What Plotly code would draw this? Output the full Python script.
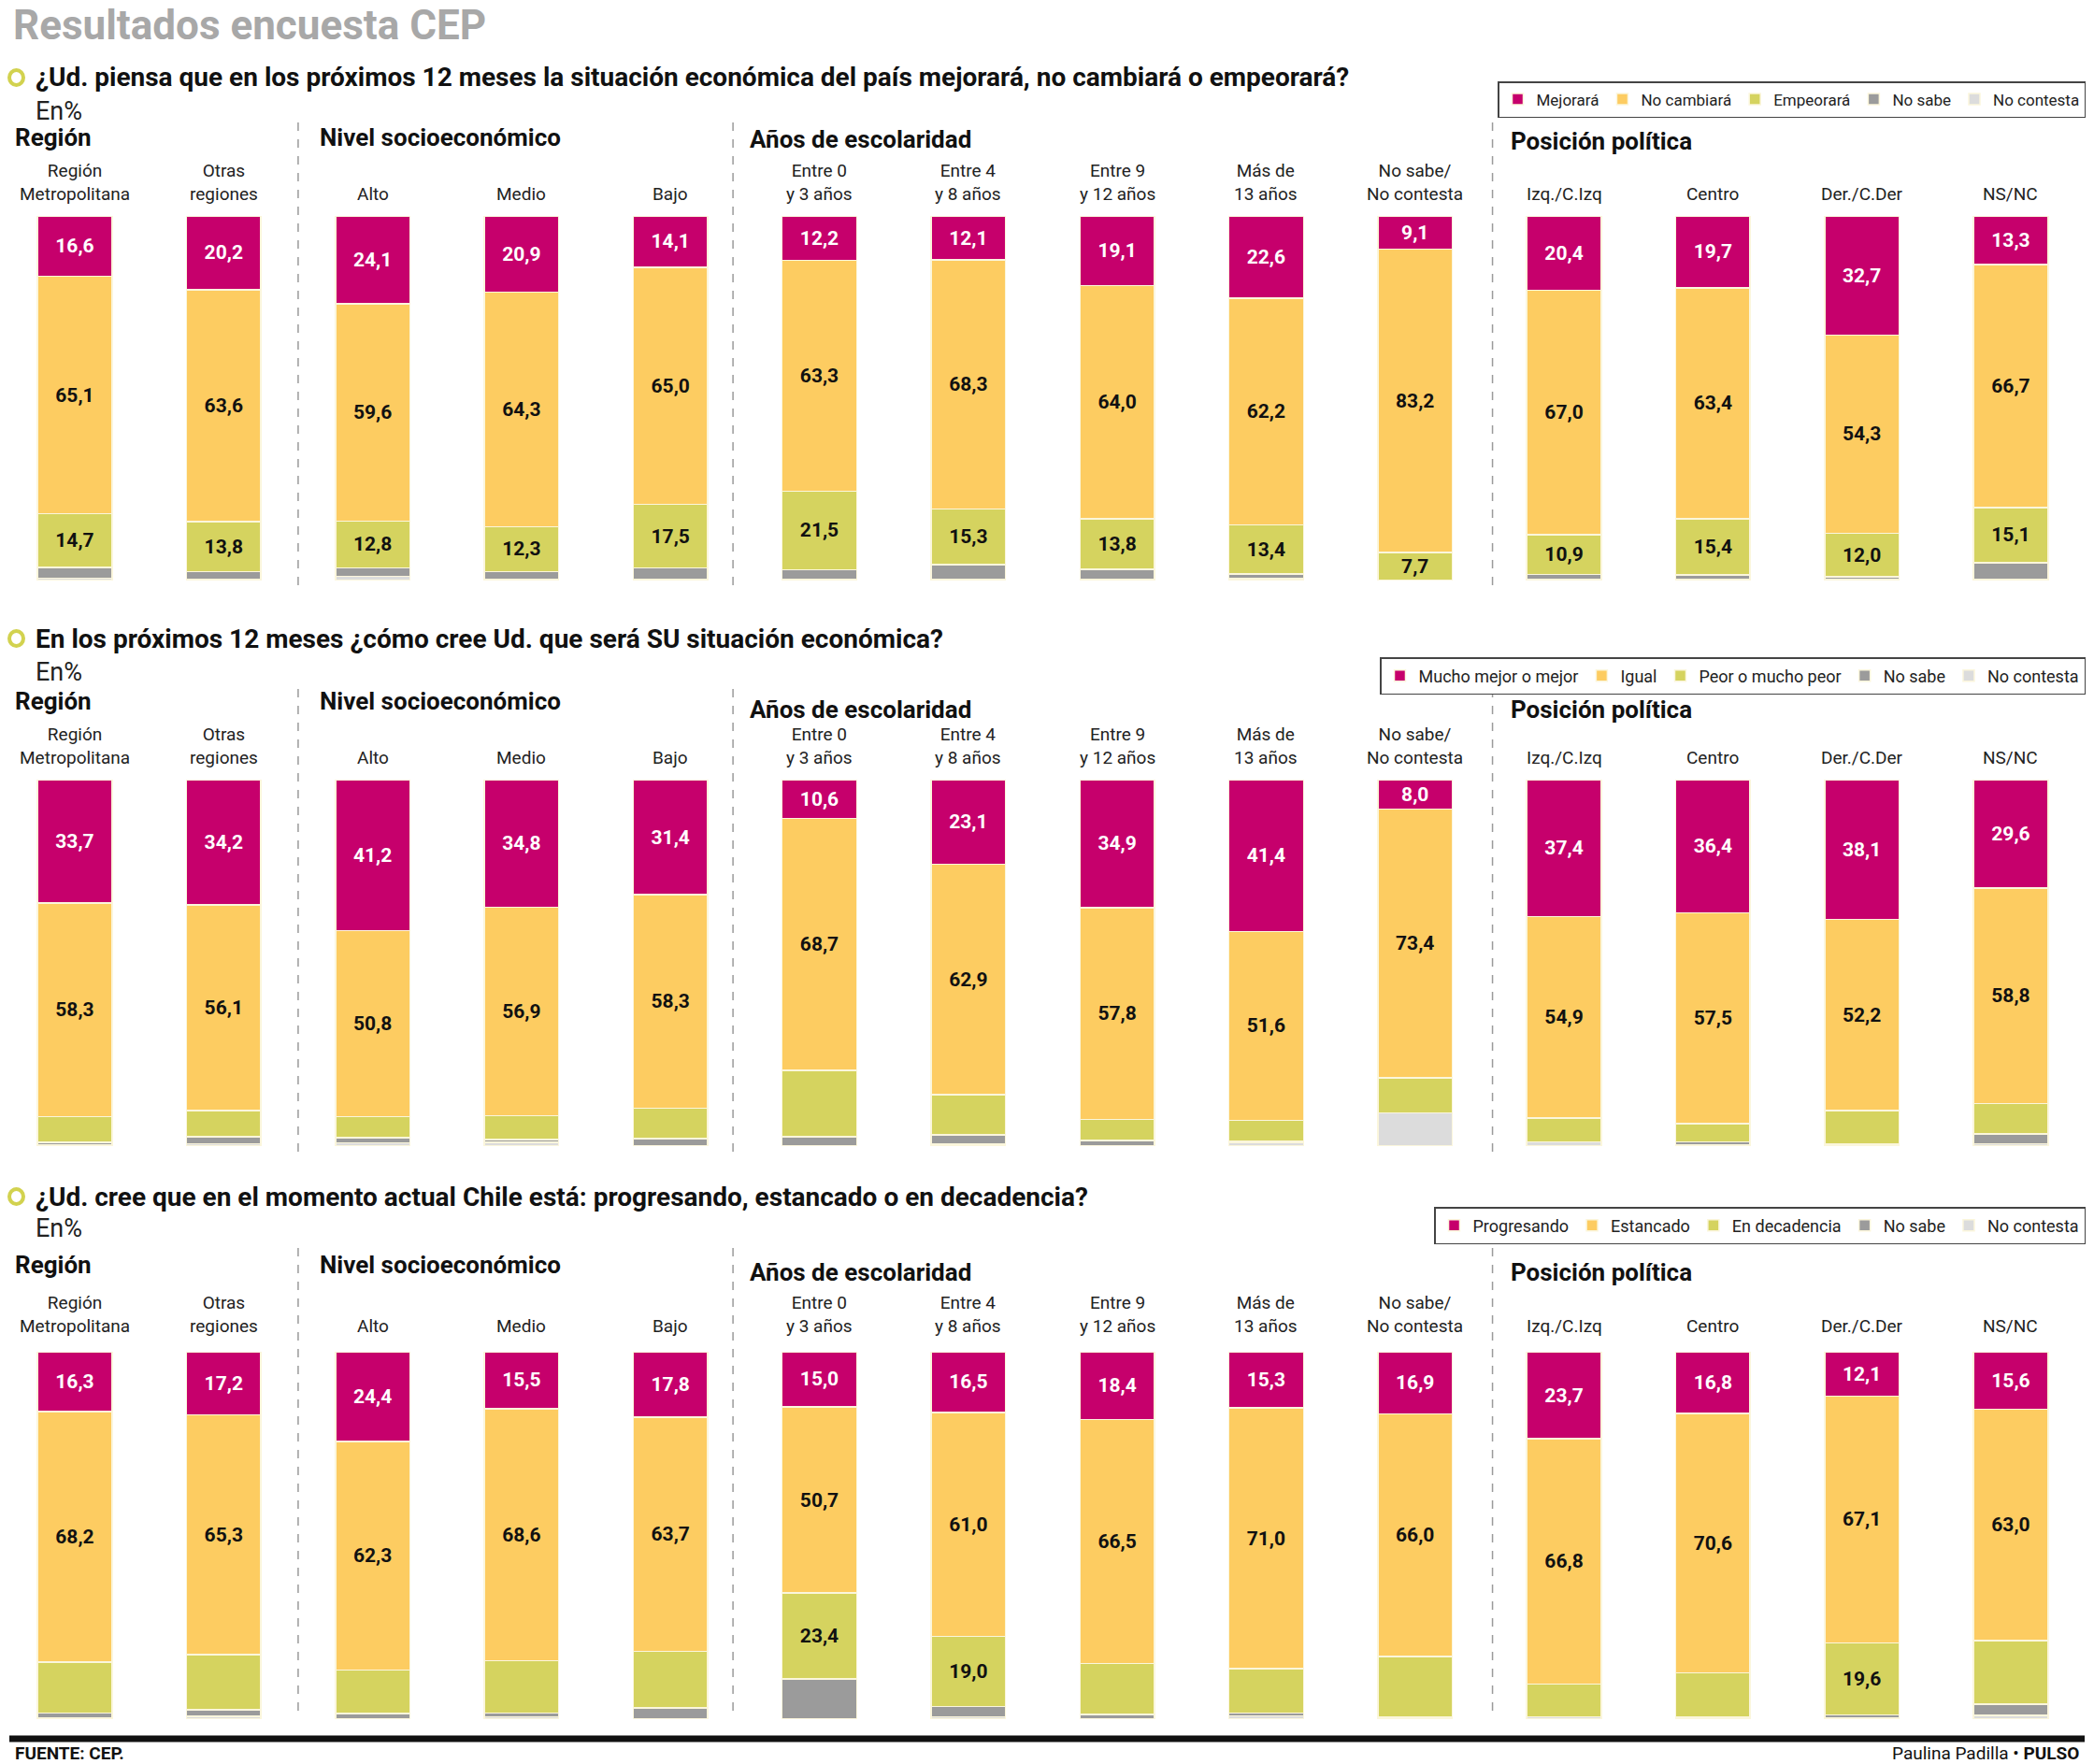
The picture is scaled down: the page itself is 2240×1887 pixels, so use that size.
import plotly.graph_objects as go

W, H = 2240, 1887

# ---------------- data ----------------
categories = ["Región<br>Metropolitana", "Otras<br>regiones", "Alto", "Medio", "Bajo",
              "Entre 0<br>y 3 años", "Entre 4<br>y 8 años", "Entre 9<br>y 12 años",
              "Más de<br>13 años", "No sabe/<br>No contesta",
              "Izq./C.Izq", "Centro", "Der./C.Der", "NS/NC"]
groups = ["Región", "Nivel socioeconómico", "Años de escolaridad", "Posición política"]

q1_title = "¿Ud. piensa que en los próximos 12 meses la situación económica del país mejorará, no cambiará o empeorará?"
q1_series = ["Mejorará", "No cambiará", "Empeorará", "No sabe", "No contesta"]
q1_mejorara = [16.6, 20.2, 24.1, 20.9, 14.1, 12.2, 12.1, 19.1, 22.6, 9.1, 20.4, 19.7, 32.7, 13.3]
q1_no_cambiara = [65.1, 63.6, 59.6, 64.3, 65.0, 63.3, 68.3, 64.0, 62.2, 83.2, 67.0, 63.4, 54.3, 66.7]
q1_empeorara = [14.7, 13.8, 12.8, 12.3, 17.5, 21.5, 15.3, 13.8, 13.4, 7.7, 10.9, 15.4, 12.0, 15.1]
q1_no_sabe = [2.9, 2.2, 2.4, 2.1, 3.0, 2.7, 4.0, 2.8, 1.3, 0.0, 1.5, 1.2, 0.8, 4.5]
q1_no_contesta = [0.7, 0.2, 1.1, 0.4, 0.4, 0.3, 0.3, 0.3, 0.5, 0.0, 0.2, 0.3, 0.2, 0.4]

q2_title = "En los próximos 12 meses ¿cómo cree Ud. que será SU situación económica?"
q2_series = ["Mucho mejor o mejor", "Igual", "Peor o mucho peor", "No sabe", "No contesta"]
q2_mejor = [33.7, 34.2, 41.2, 34.8, 31.4, 10.6, 23.1, 34.9, 41.4, 8.0, 37.4, 36.4, 38.1, 29.6]
q2_igual = [58.3, 56.1, 50.8, 56.9, 58.3, 68.7, 62.9, 57.8, 51.6, 73.4, 54.9, 57.5, 52.2, 58.8]
q2_peor = [7.0, 7.2, 5.7, 6.5, 8.2, 18.1, 10.9, 5.8, 5.7, 9.6, 6.6, 5.0, 9.2, 8.3]
q2_no_sabe = [0.7, 1.9, 1.4, 0.8, 2.1, 2.6, 2.6, 1.5, 0.3, 0.0, 0.0, 0.7, 0.5, 2.6]
q2_no_contesta = [0.3, 0.6, 0.9, 1.0, 0.0, 0.0, 0.5, 0.0, 1.0, 9.0, 1.1, 0.4, 0.0, 0.7]

q3_title = "¿Ud. cree que en el momento actual Chile está: progresando, estancado o en decadencia?"
q3_series = ["Progresando", "Estancado", "En decadencia", "No sabe", "No contesta"]
q3_progresando = [16.3, 17.2, 24.4, 15.5, 17.8, 15.0, 16.5, 18.4, 15.3, 16.9, 23.7, 16.8, 12.1, 15.6]
q3_estancado = [68.2, 65.3, 62.3, 68.6, 63.7, 50.7, 61.0, 66.5, 71.0, 66.0, 66.8, 70.6, 67.1, 63.0]
q3_decadencia = [13.9, 14.9, 11.8, 14.3, 15.5, 23.4, 19.0, 13.8, 12.0, 16.6, 8.8, 12.1, 19.6, 17.3]
q3_no_sabe = [1.4, 1.8, 1.4, 0.9, 3.0, 10.9, 2.9, 1.3, 0.8, 0.0, 0.0, 0.5, 1.0, 3.1]
q3_no_contesta = [0.2, 0.8, 0.1, 0.7, 0.0, 0.0, 0.6, 0.0, 0.9, 0.5, 0.7, 0.0, 0.2, 1.0]

colors = ["#C6006C", "#FDCC61", "#D5D35F", "#9B9B9B", "#DCDCDC"]
FONT = "Roboto, sans-serif"


def fmt(v):
    return f"{v:.1f}".replace(".", ",")


def py(px):
    return 1 - px / H


def px_x(px):
    return px / W


panels = [
    dict(title=q1_title, series=q1_series,
         values=[q1_mejorara, q1_no_cambiara, q1_empeorara, q1_no_sabe, q1_no_contesta],
         label_min=[0, 0, 0, None, None],
         top=231, bottom=621, q_y=83, en_y=119, head_y=[147, 147, 149, 151],
         lab_shift=10, div=(126, 626), legend_y=87, legend_x=2231, legend_font=17),
    dict(title=q2_title, series=q2_series,
         values=[q2_mejor, q2_igual, q2_peor, q2_no_sabe, q2_no_contesta],
         label_min=[0, 0, None, None, None],
         top=834, bottom=1226, q_y=683, en_y=719, head_y=[750, 750, 759, 759],
         lab_shift=10, div=(729, 1232), legend_y=703, legend_x=2231, legend_font=18),
    dict(title=q3_title, series=q3_series,
         values=[q3_progresando, q3_estancado, q3_decadencia, q3_no_sabe, q3_no_contesta],
         label_min=[0, 0, 18, None, None],
         top=1446, bottom=1839, q_y=1280, en_y=1314, head_y=[1353, 1353, 1361, 1361],
         lab_shift=14, div=(1329, 1830), legend_y=1291, legend_x=2231, legend_font=18),
]

fig = go.Figure()
annotations = []
shapes = []
layout_extra = {}

head_x = [14, 340, 800, 1614]
div_pos = [1.5, 4.42, 9.52]

for pi, p in enumerate(panels):
    sfx = "" if pi == 0 else str(pi + 1)
    xa, ya = "x" + sfx, "y" + sfx
    leg = "legend" + sfx
    for si, (name, vals) in enumerate(zip(p["series"], p["values"])):
        thr = p["label_min"][si]
        texts = [fmt(v) if (thr is not None and v >= thr) else "" for v in vals]
        fig.add_trace(go.Bar(
            x=categories, y=vals, name=name, xaxis=xa, yaxis=ya, legend=leg,
            marker=dict(color=colors[si], line=dict(color="#FBF6DC", width=1.5)),
            text=texts, textposition="inside", insidetextanchor="middle",
            textangle=0,
            textfont=dict(family=FONT, size=21, weight="bold",
                          color="white" if si == 0 else "#111111"),
            hoverinfo="skip",
        ))
    layout_extra["xaxis" + sfx] = dict(
        type="category", categoryorder="array", categoryarray=categories,
        range=[-0.502, 13.559], domain=[0, 1], anchor=ya,
        showticklabels=False, showgrid=False, zeroline=False, showline=False, ticks="")
    layout_extra["yaxis" + sfx] = dict(
        domain=[py(p["bottom"]), py(p["top"])], range=[100, 0], anchor=xa,
        visible=False, showgrid=False, zeroline=False)
    layout_extra[leg] = dict(
        orientation="h", x=px_x(p["legend_x"]), xanchor="right",
        y=py(p["legend_y"]), yanchor="top", traceorder="normal",
        bordercolor="#444444", borderwidth=1.5, bgcolor="white",
        font=dict(family=FONT, size=p["legend_font"], color="#222222"),
        itemwidth=30, tracegroupgap=0, itemclick=False, itemdoubleclick=False)

    # question bullet + text
    shapes.append(dict(type="circle", xref="paper", yref="paper",
                       x0=px_x(10), x1=px_x(25), y0=py(p["q_y"] + 8), y1=py(p["q_y"] - 8),
                       line=dict(color="#D2D24F", width=4), fillcolor="white"))
    annotations.append(dict(text="<b>" + p["title"] + "</b>", xref="paper", yref="paper",
                            x=px_x(36), y=py(p["q_y"]), xanchor="left", yanchor="middle",
                            showarrow=False, font=dict(family=FONT, size=28, color="#111111")))
    annotations.append(dict(text="En%", xref="paper", yref="paper",
                            x=px_x(36), y=py(p["en_y"]), xanchor="left", yanchor="middle",
                            showarrow=False, font=dict(family=FONT, size=27, color="#222222")))
    for gi, g in enumerate(groups):
        annotations.append(dict(text="<b>" + g + "</b>", xref="paper", yref="paper",
                                x=px_x(head_x[gi]), y=py(p["head_y"][gi]),
                                xanchor="left", yanchor="middle", showarrow=False,
                                font=dict(family=FONT, size=26, color="#111111")))
    for c in categories:
        annotations.append(dict(text=c, xref=xa, yref=ya + " domain", x=c, y=1,
                                yshift=p["lab_shift"], xanchor="center", yanchor="bottom",
                                showarrow=False,
                                font=dict(family=FONT, size=19, color="#222222")))
    for d in div_pos:
        shapes.append(dict(type="line", xref=xa, yref="paper", x0=d, x1=d,
                           y0=py(p["div"][1]), y1=py(p["div"][0]),
                           line=dict(color="#9A9A9A", width=1.5, dash="dash")))

# title
annotations.append(dict(text="<b>Resultados encuesta CEP</b>", xref="paper", yref="paper",
                        x=px_x(12), y=py(27), xanchor="left", yanchor="middle",
                        showarrow=False, font=dict(family=FONT, size=44, color="#A8A8A8")))
# footer
shapes.append(dict(type="line", xref="paper", yref="paper", x0=px_x(10), x1=px_x(2230),
                   y0=py(1860), y1=py(1860), line=dict(color="#111111", width=7)))
annotations.append(dict(text="<b>FUENTE: CEP.</b>", xref="paper", yref="paper",
                        x=px_x(14), y=py(1875), xanchor="left", yanchor="middle",
                        showarrow=False, font=dict(family=FONT, size=19, color="#111111")))
annotations.append(dict(text="Paulina Padilla • <b>PULSO</b>", xref="paper", yref="paper",
                        x=px_x(2226), y=py(1875), xanchor="right", yanchor="middle",
                        showarrow=False, font=dict(family=FONT, size=19, color="#111111")))

fig.update_layout(
    width=W, height=H, margin=dict(l=0, r=0, t=0, b=0),
    paper_bgcolor="white", plot_bgcolor="white",
    barmode="stack", bargap=0.5, separators=",.",
    font=dict(family=FONT),
    annotations=annotations, shapes=shapes,
    uniformtext=dict(minsize=14, mode="show"),
    **layout_extra,
)

fig.write_html("out.html")
